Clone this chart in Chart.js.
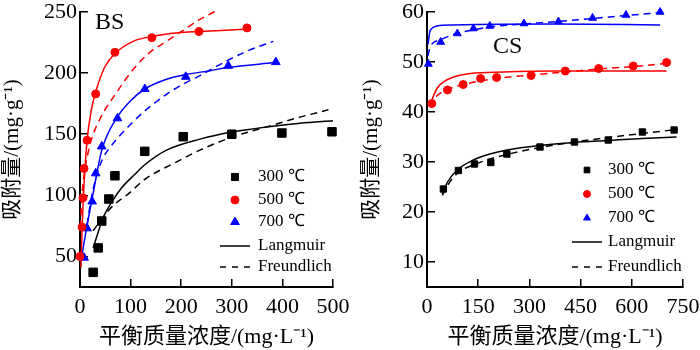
<!DOCTYPE html>
<html>
<head>
<meta charset="utf-8">
<script src="https://cdn.jsdelivr.net/npm/chart.js@4.4.1/dist/chart.umd.min.js"></script>
<style>
  html, body { margin: 0; padding: 0; background: #fff; }
  #wrap { position: relative; width: 700px; height: 350px; }
  .box { position: absolute; top: 0; width: 350px; height: 350px; }
</style>
</head>
<body>
<div id="wrap">
  <div class="box" style="left:0"><canvas id="chartBS" width="350" height="350"></canvas></div>
  <div class="box" style="left:350px"><canvas id="chartCS" width="350" height="350"></canvas></div>
</div>
<script>
'use strict';

// ---- BS panel data ----
var bsX300 = [26, 36, 43, 57, 69, 128, 204, 300, 399, 498];
var bsY300 = [37, 57, 79, 97, 116, 136, 148, 150, 151, 152];
var bsX500 = [0, 4, 6, 8, 14, 31, 69, 142, 235, 330];
var bsY500 = [50, 74, 98, 122, 145, 183, 217, 229, 234, 237];
var bsX700 = [8, 14, 24, 31, 43, 74, 128, 209, 293, 387];
var bsY700 = [49, 73, 95, 118, 140, 163, 187, 197, 206, 209];

var bsLangX300 = [26, 36, 45, 62, 82, 108, 128, 171, 237, 303, 369, 435, 500];
var bsLangY300 = [57, 70, 81, 94, 106, 117, 125, 137, 146, 152, 156, 159, 161];
var bsFreuX300 = [26, 49, 69, 95, 128, 194, 237, 303, 369, 435, 491];
var bsFreuY300 = [71, 84, 93, 101, 113, 128, 137, 148, 156, 164, 170];

var bsLangX500 = [2, 4, 6, 8, 14, 22, 32, 40, 49, 69, 105, 142, 194, 237, 330];
var bsLangY500 = [41, 70, 92, 109, 145, 169, 186, 196, 205, 216, 226, 230, 233, 234, 236];
var bsFreuX500 = [1, 3, 6, 10, 14, 22, 40, 72, 105, 138, 171, 204, 237, 270];
var bsFreuY500 = [74, 94, 110, 122, 131, 145, 163, 184, 203, 217, 226, 235, 244, 251];

var bsLangX700 = [3, 12, 22, 32, 43, 72, 99, 128, 171, 211, 257, 290, 385];
var bsLangY700 = [49, 71, 93, 115, 137, 163, 177, 187, 195, 199, 202, 204.5, 208.6];
var bsFreuX700 = [14, 22, 32, 45, 59, 112, 152, 191, 237, 290, 330, 382];
var bsFreuY700 = [76, 97, 115, 130, 139, 163, 177, 188, 198, 210, 218, 226];

var bsTicksX = [0, 100, 200, 300, 400, 500];
var bsTicksY = [50, 100, 150, 200, 250];

// ---- CS panel data ----
var csX300 = [48, 92, 139, 187, 234, 331, 432, 531, 631, 724];
var csY300 = [24.6, 28.3, 29.6, 29.9, 31.6, 33.0, 34.0, 34.4, 36.0, 36.4];
var csX500 = [14, 60, 106, 157, 204, 305, 405, 503, 604, 702];
var csY500 = [41.7, 44.4, 45.5, 46.7, 46.9, 47.3, 48.2, 48.7, 49.2, 49.9];
var csX700 = [4, 40, 89, 136, 184, 284, 385, 485, 583, 683];
var csY700 = [49.6, 54.0, 55.7, 56.7, 57.2, 57.7, 58.1, 58.8, 59.4, 60.0];

var csLangX300 = [45, 60, 92, 136, 184, 234, 331, 432, 531, 631, 731];
var csLangY300 = [23.6, 26.0, 28.6, 30.4, 31.6, 32.4, 33.3, 33.9, 34.3, 34.7, 35.0];
var csFreuX300 = [45, 60, 92, 136, 184, 234, 331, 432, 531, 631, 731];
var csFreuY300 = [23.3, 25.3, 27.9, 29.4, 30.6, 31.5, 32.9, 34.0, 34.9, 35.7, 36.5];

var csLangX500 = [9, 14, 29, 48, 78, 127, 224, 371, 702];
var csLangY500 = [41.0, 42.3, 44.7, 46.0, 47.0, 47.7, 48.0, 48.2, 48.2];
var csFreuX500 = [10, 14, 30, 60, 106, 157, 204, 305, 405, 503, 604, 702];
var csFreuY500 = [41.0, 41.9, 43.3, 44.5, 45.5, 46.2, 46.7, 47.4, 48.0, 48.6, 49.1, 49.7];

var csLangX700 = [3, 8, 14, 29, 78, 370, 683];
var csLangY700 = [53.5, 56.0, 56.7, 57.2, 57.4, 57.6, 57.4];
var csFreuX700 = [3, 9, 38, 87, 136, 184, 282, 380, 485, 583, 683];
var csFreuY700 = [51.2, 53.0, 54.4, 55.7, 56.4, 57.0, 57.6, 58.1, 58.7, 59.3, 59.9];

var csTicksX = [0, 150, 300, 450, 600, 750];
var csTicksY = [10, 20, 30, 40, 50, 60];

var legendLabels = ['300 \u2103', '500 \u2103', '700 \u2103', 'Langmuir', 'Freundlich'];
var yTitle = '\u5438\u9644\u91cf/(mg\u00b7g\u207b\u00b9)';
var xTitle = '\u5e73\u8861\u8d28\u91cf\u6d53\u5ea6/(mg\u00b7L\u207b\u00b9)';

var SERIF = '"Liberation Serif", "Times New Roman", serif';
var CJK = '"Liberation Serif", "Noto Sans CJK SC", serif';
var RED = '#ff0000';
var BLUE = '#0000ff';
var BLACK = '#000000';

function pairs(xs, ys){
  return xs.map(function(x, i){ return {x: x, y: ys[i]}; });
}

function markers(xs, ys, color, style, r){
  return {
    data: pairs(xs, ys),
    pointStyle: style,
    pointRadius: r,
    backgroundColor: color,
    borderColor: color,
    borderWidth: 1,
    showLine: false,
    clip: false
  };
}

function curve(xs, ys, color, dashed){
  return {
    data: pairs(xs, ys),
    showLine: true,
    pointRadius: 0,
    borderColor: color,
    backgroundColor: color,
    borderWidth: 1.5,
    borderDash: dashed ? [7, 5] : [],
    cubicInterpolationMode: 'monotone',
    fill: false,
    clip: false
  };
}

// legend and panel tag drawn inside the plot
var panelLegend = {
  id: 'panelLegend',
  afterDraw: function(chart, args, opts){
    var ctx = chart.ctx;
    ctx.save();
    ctx.fillStyle = BLACK;
    ctx.font = '24px ' + SERIF;
    ctx.textBaseline = 'middle';
    ctx.textAlign = 'left';
    ctx.fillText(opts.tag, opts.tagX, opts.tagY);

    var styles = [['rect', BLACK], ['circle', RED], ['triangle', BLUE]];
    ctx.font = '17px ' + SERIF;
    for (var i = 0; i < legendLabels.length; i++) {
      var y = opts.rows[i];
      if (i < 3) {
        ctx.fillStyle = styles[i][1];
        ctx.strokeStyle = styles[i][1];
        ctx.lineWidth = 1;
        Chart.helpers.drawPoint(ctx, {pointStyle: styles[i][0], radius: opts.markR[i], rotation: 0, borderWidth: 1}, opts.markX, y);
      } else {
        ctx.strokeStyle = BLACK;
        ctx.lineWidth = 1.5;
        ctx.setLineDash(i === 4 ? [6, 6] : []);
        ctx.beginPath();
        ctx.moveTo(opts.lineX[0], y);
        ctx.lineTo(opts.lineX[1], y);
        ctx.stroke();
        ctx.setLineDash([]);
      }
      ctx.fillStyle = BLACK;
      ctx.fillText(legendLabels[i], opts.textX, y);
    }
    ctx.restore();
  }
};

function axisX(min, max, ticks){
  return {
    type: 'linear',
    min: min,
    max: max,
    afterBuildTicks: function(s){ s.ticks = ticks.map(function(v){ return {value: v}; }); },
    afterFit: function(s){ s.height = 63; s.paddingLeft = 0; s.paddingRight = 0; },
    border: {display: true, color: BLACK, width: 2},
    grid: {drawOnChartArea: false, drawTicks: true, tickLength: -8, color: BLACK, lineWidth: 1.5},
    ticks: {color: BLACK, font: {family: SERIF, size: 22}, padding: 15, autoSkip: false, maxRotation: 0},
    title: {display: true, text: xTitle, color: BLACK, font: {family: CJK, size: 22}, padding: {top: 0, bottom: 0}}
  };
}

function axisY(min, max, ticks, width, titlePad){
  return {
    type: 'linear',
    min: min,
    max: max,
    afterBuildTicks: function(s){ s.ticks = ticks.map(function(v){ return {value: v}; }); },
    afterFit: function(s){ s.width = width; s.paddingTop = 0; s.paddingBottom = 0; },
    border: {display: true, color: BLACK, width: 2},
    grid: {drawOnChartArea: false, drawTicks: true, tickLength: -8, color: BLACK, lineWidth: 1.5},
    ticks: {color: BLACK, font: {family: SERIF, size: 22}, padding: 11, autoSkip: false},
    title: {display: true, text: yTitle, color: BLACK, font: {family: CJK, size: 21}, padding: {top: titlePad, bottom: 0}}
  };
}

function makeChart(id, datasets, xs, ys, legendOpts){
  new Chart(document.getElementById(id).getContext('2d'), {
    type: 'scatter',
    data: {datasets: datasets},
    options: {
      responsive: false,
      animation: false,
      layout: {padding: {top: 12, right: 17, left: 0, bottom: 0}},
      plugins: {legend: {display: false}, tooltip: {enabled: false}, panelLegend: legendOpts},
      scales: {x: xs, y: ys}
    },
    plugins: [panelLegend]
  });
}

// left panel (BS)
makeChart('chartBS', [
  markers(bsX300, bsY300, BLACK, 'rect', 6),
  markers(bsX500, bsY500, RED, 'circle', 4),
  markers(bsX700, bsY700, BLUE, 'triangle', 5),
  curve(bsLangX300, bsLangY300, BLACK, false),
  curve(bsFreuX300, bsFreuY300, BLACK, true),
  curve(bsLangX500, bsLangY500, RED, false),
  curve(bsFreuX500, bsFreuY500, RED, true),
  curve(bsLangX700, bsLangY700, BLUE, false),
  curve(bsFreuX700, bsFreuY700, BLUE, true)
], axisX(0, 500, bsTicksX), axisY(25, 250, bsTicksY, 80, 0), {
  tag: 'BS', tagX: 95, tagY: 23,
  rows: [177, 200, 222, 246, 267],
  markX: 235, markR: [5, 4, 5],
  lineX: [220, 250], textX: 258
});

// right panel (CS)
makeChart('chartCS', [
  markers(csX300, csY300, BLACK, 'rect', 4.5),
  markers(csX500, csY500, RED, 'circle', 4),
  markers(csX700, csY700, BLUE, 'triangle', 4.5),
  curve(csLangX300, csLangY300, BLACK, false),
  curve(csFreuX300, csFreuY300, BLACK, true),
  curve(csLangX500, csLangY500, RED, false),
  curve(csFreuX500, csFreuY500, RED, true),
  curve(csLangX700, csLangY700, BLUE, false),
  curve(csFreuX700, csFreuY700, BLUE, true)
], axisX(0, 750, csTicksX), axisY(5, 60, csTicksY, 77, 9), {
  tag: 'CS', tagX: 143, tagY: 47,
  rows: [170, 194, 218, 242, 267],
  markX: 237, markR: [4, 3.5, 4],
  lineX: [222, 252], textX: 258
});
</script>
</body>
</html>
